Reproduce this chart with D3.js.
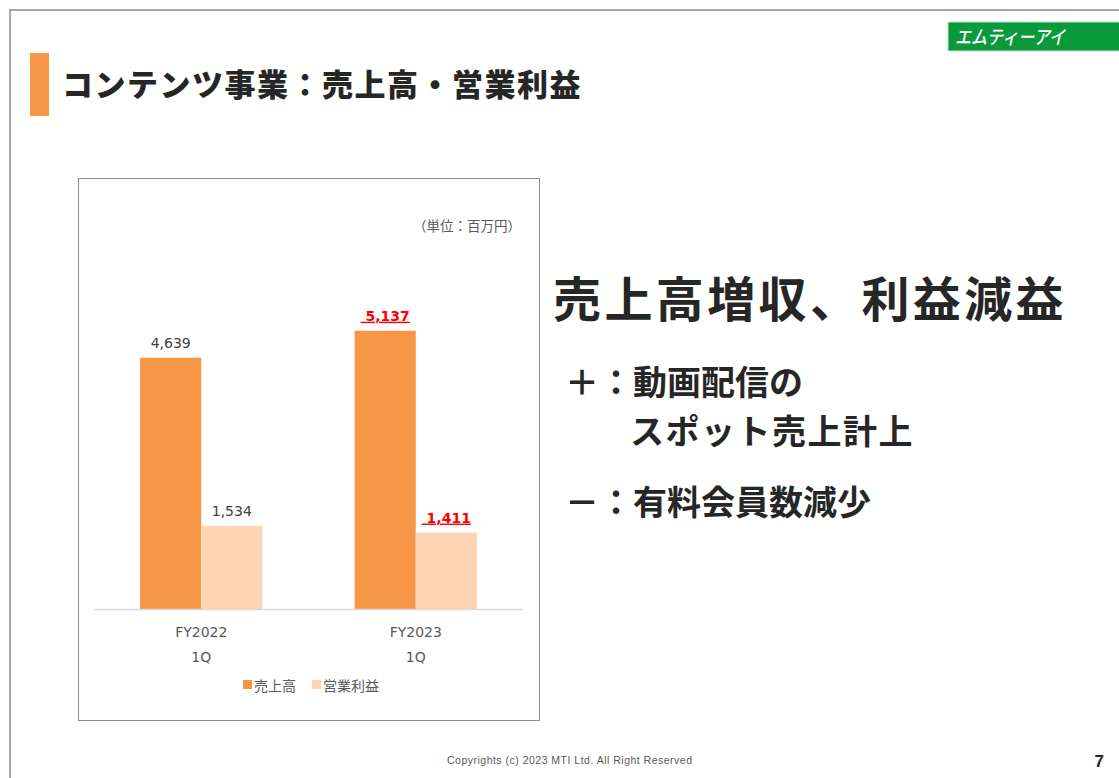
<!DOCTYPE html>
<html><head><meta charset="utf-8">
<script src="https://cdn.jsdelivr.net/npm/d3@7"></script>
<style>
html,body{margin:0;padding:0;background:#fff;}
svg{display:block;}
</style></head>
<body>
<svg id="c" width="1119" height="778"></svg>
<script>
const periods = ["FY2022", "FY2023"];
const quarters = ["1Q", "1Q"];
const seriesNames = ["売上高", "営業利益"];
const sales = [4639, 5137];
const profit = [1534, 1411];
const highlight = [false, true];
const yTicks = [0, 1000, 2000, 3000, 4000, 5000, 6000];

const svg = d3.select("#c");
const JP = "'Noto Sans CJK JP','Noto Sans',sans-serif";
const NUM = "'DejaVu Sans',sans-serif";
const colors = ["#f79646", "#fcd5b5"];

// slide frame
svg.append("path").attr("d","M10,778 V10 H1119").attr("fill","none").attr("stroke","#a6a6a6").attr("stroke-width",2);

// logo
svg.append("rect").attr("x",948).attr("y",22).attr("width",180).attr("height",29).attr("fill","#0a9a3c").attr("stroke","#bfe3c8").attr("stroke-width",1);
svg.append("text").attr("x",955).attr("y",44).attr("font-family",JP).attr("font-weight",500).attr("font-size",19)
  .attr("fill","#fff").attr("font-style","italic").attr("textLength",110).attr("lengthAdjust","spacingAndGlyphs").text("エムティーアイ");

// title
svg.append("rect").attr("x",30).attr("y",53).attr("width",19).attr("height",63).attr("fill","#f79646");
svg.append("text").attr("x",62).attr("y",96).attr("font-family",JP).attr("font-weight",900).attr("font-size",31)
  .attr("fill","#262626").attr("letter-spacing",1.5).text("コンテンツ事業：売上高・営業利益");

// chart box
svg.append("rect").attr("x",78.5).attr("y",178.5).attr("width",461).attr("height",542).attr("fill","#fff").attr("stroke","#8c8c8c").attr("stroke-width",1);

svg.append("text").attr("x",521).attr("y",231).attr("text-anchor","end").attr("font-family",JP).attr("font-size",13.5)
  .attr("fill","#595959").text("（単位：百万円）");

const x0 = d3.scaleBand().domain(periods).range([94, 523]).paddingInner(0.43).paddingOuter(0.215);
const x1 = d3.scaleBand().domain(seriesNames).range([0, x0.bandwidth()]);
const y = d3.scaleLinear().domain([0, 6000]).range([609, 284]);

const g = svg.append("g");
periods.forEach((p, i) => {
  const vals = [sales[i], profit[i]];
  vals.forEach((v, j) => {
    const bx = x0(p) + x1(seriesNames[j]);
    g.append("rect").attr("x", bx).attr("y", y(v)).attr("width", x1.bandwidth()).attr("height", y(0) - y(v)).attr("fill", colors[j]);
    const lbl = d3.format(",")(v);
    const t = g.append("text").attr("x", bx + x1.bandwidth()/2).attr("y", y(v) - 10)
      .attr("text-anchor","middle").attr("font-family",NUM).attr("font-size",14);
    if (highlight[i]) {
      t.attr("fill","#ff0000").attr("font-weight",700).attr("text-decoration","underline").text("\u00a0" + lbl);
    } else {
      t.attr("fill","#404040").text(lbl);
    }
  });
});

// axis baseline
svg.append("line").attr("x1",94).attr("x2",523).attr("y1",609.5).attr("y2",609.5).attr("stroke","#d9d9d9").attr("stroke-width",1.5);

// category labels
const xa = svg.append("g").attr("transform","translate(0,609)")
  .call(d3.axisBottom(x0).tickSize(0).tickPadding(0).tickFormat(() => ""));
xa.select(".domain").remove();
xa.selectAll(".tick").each(function(d, i) {
  const tk = d3.select(this);
  tk.append("text").attr("y",28).attr("text-anchor","middle").attr("font-family",NUM).attr("font-size",14).attr("fill","#595959").text(periods[i]);
  tk.append("text").attr("y",53).attr("text-anchor","middle").attr("font-family",NUM).attr("font-size",14).attr("fill","#595959").text(quarters[i]);
});

// legend
const leg = svg.append("g");
const legX = [243, 312];
seriesNames.forEach((n, j) => {
  leg.append("rect").attr("x", legX[j]).attr("y", 680).attr("width", 9).attr("height", 9).attr("fill", colors[j]);
  leg.append("text").attr("x", legX[j] + 11).attr("y", 690.5).attr("font-family", JP).attr("font-size", 14).attr("fill","#595959").text(n);
});

// right side commentary
svg.append("text").attr("x",553).attr("y",317).attr("font-family",JP).attr("font-weight",700).attr("font-size",48)
  .attr("fill","#262626").attr("letter-spacing",3.4).text("売上高増収、利益減益");
svg.append("text").attr("x",565).attr("y",395).attr("font-family",JP).attr("font-weight",700).attr("font-size",34)
  .attr("fill","#262626").text("＋：動画配信の");
svg.append("text").attr("x",630).attr("y",444).attr("font-family",JP).attr("font-weight",700).attr("font-size",34)
  .attr("fill","#262626").attr("letter-spacing",1.5).text("スポット売上計上");
svg.append("text").attr("x",565).attr("y",515).attr("font-family",JP).attr("font-weight",700).attr("font-size",34)
  .attr("fill","#262626").text("－：有料会員数減少");

// footer
svg.append("text").attr("x",447).attr("y",764).attr("font-family","'Liberation Sans',sans-serif").attr("font-size",10.5)
  .attr("fill","#595959").attr("textLength",245).attr("lengthAdjust","spacing").text("Copyrights (c) 2023 MTI Ltd. All Right Reserved");
svg.append("text").attr("x",1104).attr("y",767).attr("text-anchor","end").attr("font-family","'Liberation Sans',sans-serif").attr("font-weight",700).attr("font-size",17)
  .attr("fill","#262626").text("7");
</script>
</body></html>
